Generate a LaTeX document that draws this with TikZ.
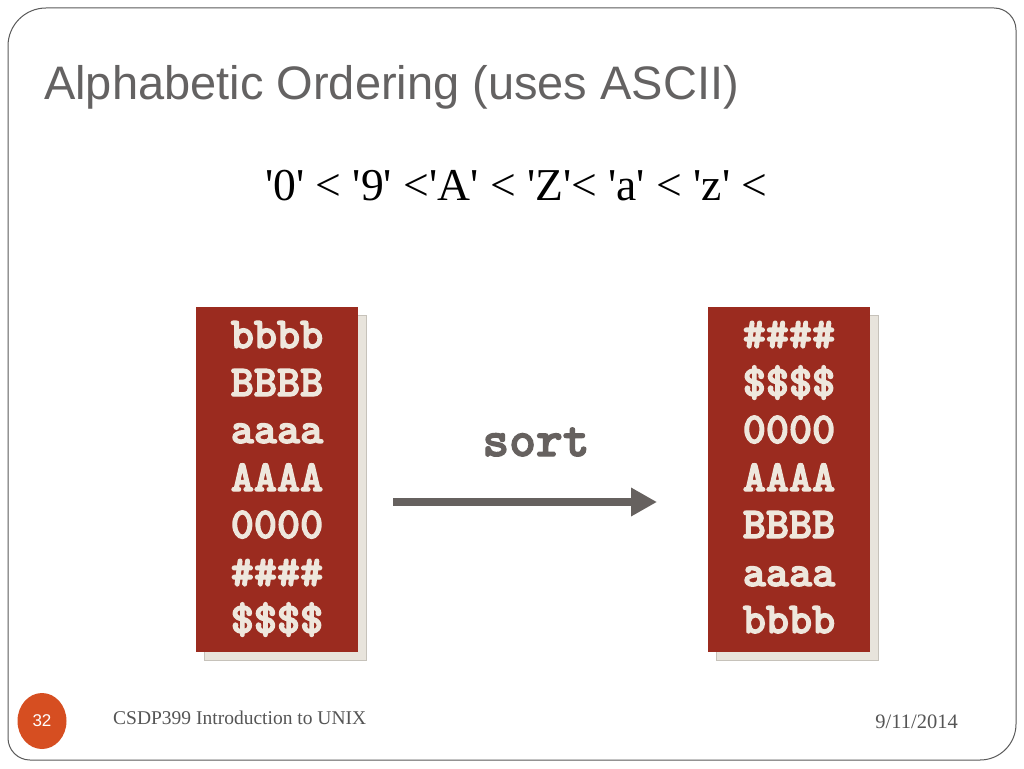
\documentclass[tikz,border=0pt]{standalone}
\usepackage{fontspec}
\setmainfont{Liberation Serif}
\newfontfamily\titlefont{Liberation Sans}
\usetikzlibrary{arrows.meta,shapes.geometric}
\definecolor{framegray}{HTML}{5A5A5A}
\definecolor{titlegray}{HTML}{646262}
\definecolor{boxred}{HTML}{9B2B1F}
\definecolor{boxtext}{HTML}{EEE7DD}
\definecolor{shadowfill}{HTML}{E8E4DC}
\definecolor{shadowline}{HTML}{C6C2BA}
\definecolor{arrowgray}{HTML}{66615F}
\definecolor{pagecircle}{HTML}{D64E21}
\definecolor{footgray}{HTML}{555555}
\newcommand\sq{\textquotesingle}
\newcommand\heavy[1]{\special{pdf:literal direct 2 Tr 1.3 w 1 j}#1\special{pdf:literal direct 0 Tr}}
\tikzset{
  codeline/.style={font=\ttfamily\bfseries\fontsize{44}{44}\selectfont, text=boxtext, anchor=base},
  redbox/.style={fill=boxred, draw=none},
  shadowbox/.style={fill=shadowfill, draw=shadowline, line width=0.8pt},
}
\begin{document}
\begin{tikzpicture}[x=1pt,y=-1pt]
\useasboundingbox (0,0) rectangle (1024,768);
\fill[white] (0,0) rectangle (1024,768);
% frame
\draw[framegray, line width=1pt]
  (8,400) [rounded corners=38pt] -- (8,8) [rounded corners=22pt] -- (1016,8)
  [rounded corners=36pt] -- (1016,760) [rounded corners=22pt] -- (8,760) [sharp corners] -- cycle;
% title
\node[anchor=base west, inner sep=0, text=titlegray, font=\titlefont\fontsize{47}{47}\selectfont] (title) at (44,99) {Alphabetic Ordering (uses ASCII)};
% subtitle
\node[anchor=base west, inner sep=0, font=\fontsize{45.6}{45.6}\selectfont] (order) at (265,200) {\sq0\sq{} < \sq9\sq{} <\sq A\sq{} < \sq Z\sq< \sq a\sq{} < \sq z\sq{} <};
% left box
\draw[shadowbox] (204,315) rectangle (366,660);
\fill[redbox] (196,307) rectangle (358,652);
\node[codeline] (l1) at (277,348) {\heavy{bbbb}};
\node[codeline] (l2) at (277,396) {\heavy{BBBB}};
\node[codeline] (l3) at (277,443) {\heavy{aaaa}};
\node[codeline] (l4) at (277,491) {\heavy{AAAA}};
\node[codeline] (l5) at (277,538) {\heavy{0000}};
\node[codeline] (l6) at (277,586) {\heavy{\#\#\#\#}};
\node[codeline] (l7) at (277,633) {\heavy{\$\$\$\$}};
% right box
\draw[shadowbox] (716,315) rectangle (878,660);
\fill[redbox] (708,307) rectangle (870,652);
\node[codeline] (r1) at (789,348) {\heavy{\#\#\#\#}};
\node[codeline] (r2) at (789,396) {\heavy{\$\$\$\$}};
\node[codeline] (r3) at (789,443) {\heavy{0000}};
\node[codeline] (r4) at (789,491) {\heavy{AAAA}};
\node[codeline] (r5) at (789,538) {\heavy{BBBB}};
\node[codeline] (r6) at (789,586) {\heavy{aaaa}};
\node[codeline] (r7) at (789,633) {\heavy{bbbb}};
% sort label and arrow
\node[anchor=base, inner sep=0, text=arrowgray, font=\ttfamily\bfseries\fontsize{51}{51}\selectfont] (sortlbl) at (536,456) {\heavy{sort}};
\coordinate (as) at (393,502);
\coordinate (ae) at (657,502);
\draw[arrowgray, line width=8pt, -{Triangle[length=26pt,width=27pt]}] (as) -- (ae);
% footer
\node[ellipse, fill=pagecircle, minimum width=49pt, minimum height=56pt, inner sep=0, text=white, font=\titlefont\fontsize{17}{17}\selectfont] (pnum) at (42,721) {32};
\node[anchor=base west, inner sep=0, text=footgray, font=\fontsize{19.5}{19.5}\selectfont] (course) at (113,724) {CSDP399 Introduction to UNIX};
\node[anchor=base east, inner sep=0, text=footgray, font=\fontsize{20.5}{20.5}\selectfont] (date) at (958,728) {9/11/2014};
\end{tikzpicture}
\end{document}
